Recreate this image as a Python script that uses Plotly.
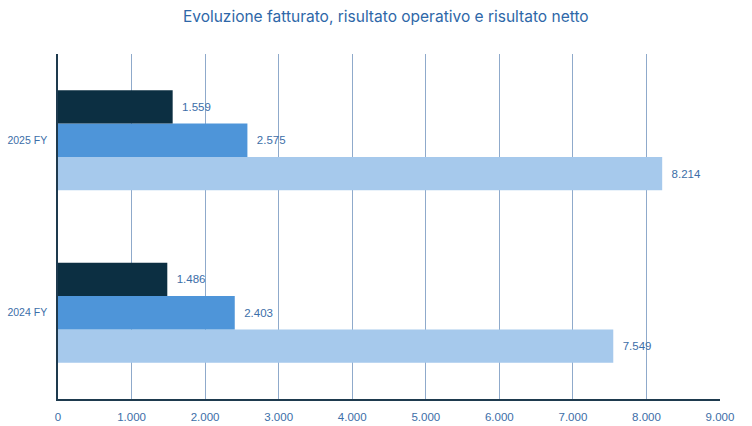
import plotly.graph_objects as go

categories = ["2024 FY", "2025 FY"]
fatturato = [7549, 8214]
risultato_operativo = [2403, 2575]
risultato_netto = [1486, 1559]
series_names = ["Fatturato", "Risultato operativo", "Risultato netto"]
tick_values = [0, 1000, 2000, 3000, 4000, 5000, 6000, 7000, 8000, 9000]

colors = ["#A6C9EC", "#4E95D9", "#0C2F42"]
text_color = "#3C6EA8"

fig = go.Figure()
for name, vals, col in zip(series_names, [fatturato, risultato_operativo, risultato_netto], colors):
    fig.add_trace(go.Bar(
        y=categories, x=vals, name=name, orientation="h",
        marker=dict(color=col, line=dict(width=0)),
        texttemplate="  %{x:,}", textposition="outside",
        textfont=dict(family="Liberation Sans, Arial", size=11.5, color=text_color),
        cliponaxis=False,
    ))

fig.update_layout(
    width=752, height=426,
    margin=dict(l=58, r=32, t=54, b=27),
    barmode="group", bargap=0.42, bargroupgap=0,
    separators=",.",
    showlegend=False,
    plot_bgcolor="white", paper_bgcolor="white",
    title=dict(text="Evoluzione fatturato, risultato operativo e risultato netto",
               x=0.513, xanchor="center", y=0.96, yanchor="middle",
               font=dict(family="Inter", size=15.5, color="#2E67A8")),
)
fig.update_xaxes(
    range=[0, 9000], tickvals=tick_values, tickformat=",",
    showgrid=True, gridcolor="#8FAACB", gridwidth=1,
    showline=True, linecolor="#1E3A4E", linewidth=1.5,
    zeroline=False, automargin=False,
    tickfont=dict(family="Liberation Sans, Arial", size=11.5, color=text_color),
    ticks="outside", ticklen=6, tickcolor="rgba(0,0,0,0)",
)
fig.update_yaxes(
    showline=True, linecolor="#1E3A4E", linewidth=1.5,
    showgrid=False, automargin=False,
    tickfont=dict(family="Liberation Sans, Arial", size=10.5, color=text_color),
    ticks="outside", ticklen=7, tickcolor="rgba(0,0,0,0)",
)
fig.write_html("out.html")
